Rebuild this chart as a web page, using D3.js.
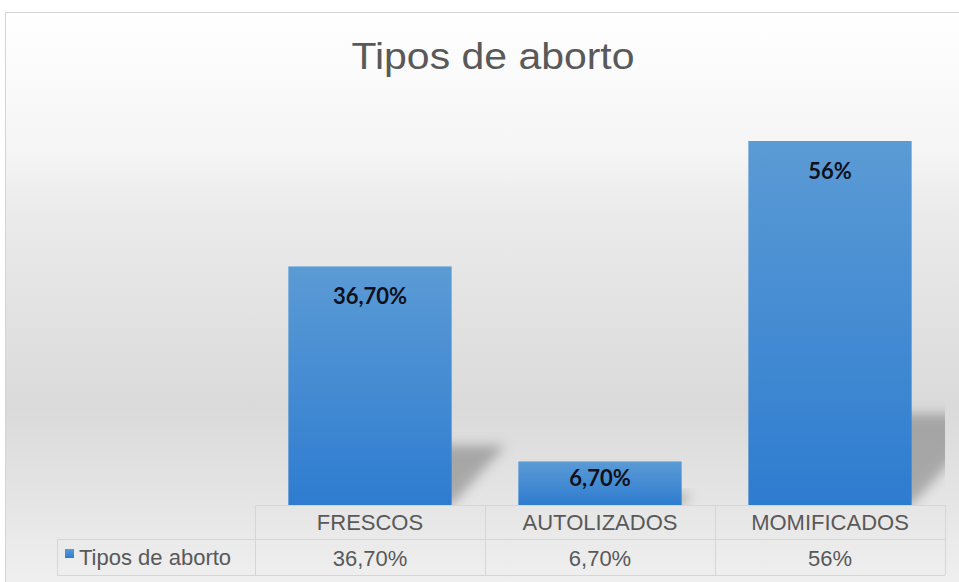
<!DOCTYPE html>
<html>
<head>
<meta charset="utf-8">
<script src="https://cdnjs.cloudflare.com/ajax/libs/d3/7.8.5/d3.min.js"></script>
<style>
  html, body { margin: 0; padding: 0; background: #fff; }
  svg { display: block; }
</style>
</head>
<body>
<svg id="chart"></svg>
<script>
// data
const chartTitle = 'Tipos de aborto';
const seriesName = 'Tipos de aborto';
const categories = ['FRESCOS', 'AUTOLIZADOS', 'MOMIFICADOS'];
const values = [36.7, 6.7, 56];
const valueLabels = ['36,70%', '6,70%', '56%'];

var width = 959;
var height = 582;

// plot geometry
var left = 255, right = 945;
var base = 505, row1 = 539, row2 = 575;

var svg = d3.select('#chart').attr('width', width).attr('height', height);
var defs = svg.append('defs');

var bg = defs.append('linearGradient').attr('id', 'bg')
    .attr('x1', 0).attr('y1', 0).attr('x2', 0).attr('y2', 1);
[['0%', '#ffffff'], ['24%', '#f5f5f5'], ['34%', '#ebebeb'], ['68%', '#dadada'],
 ['84%', '#e5e5e5'], ['100%', '#f1f1f1']].forEach(s => {
  bg.append('stop').attr('offset', s[0]).attr('stop-color', s[1]);
});

var barGrad = defs.append('linearGradient').attr('id', 'barGrad')
    .attr('x1', 0).attr('y1', 0).attr('x2', 0).attr('y2', 1);
barGrad.append('stop').attr('offset', '0%').attr('stop-color', '#5b9bd5');
barGrad.append('stop').attr('offset', '100%').attr('stop-color', '#2e7cd0');

defs.append('filter').attr('id', 'blur')
    .attr('x', '-50%').attr('y', '-50%').attr('width', '200%').attr('height', '200%')
  .append('feGaussianBlur').attr('stdDeviation', 6);

defs.append('clipPath').attr('id', 'plotClip')
  .append('rect').attr('x', 0).attr('y', 0).attr('width', right).attr('height', base);

// chart area
svg.append('rect')
    .attr('x', 5.5).attr('y', 12.5)
    .attr('width', width).attr('height', height)
    .attr('fill', 'url(#bg)')
    .attr('stroke', '#d4d4d4');

var x = d3.scaleBand().domain(categories).range([left, right]).paddingInner(0.29).paddingOuter(0.145);
var col = d3.scaleBand().domain(categories).range([left, right]).padding(0);
var y = d3.scaleLinear().domain([0, 60]).range([base, base - 390]);

// title
svg.append('text')
    .attr('x', 493).attr('y', 69)
    .attr('text-anchor', 'middle')
    .attr('font-family', 'Liberation Sans, Arial, sans-serif')
    .attr('font-size', 37)
    .attr('fill', '#595959')
    .attr('textLength', 283).attr('lengthAdjust', 'spacingAndGlyphs')
    .text(chartTitle);

// perspective shadows behind the bars
svg.append('g').attr('clip-path', 'url(#plotClip)')
  .selectAll('path')
  .data(values)
  .join('path')
    .attr('d', (d, i) => {
      let x0 = x(categories[i]) + 10, x1 = x(categories[i]) + x.bandwidth();
      let h = (base - y(d)) * 0.25;
      let skew = h * 0.9;
      return `M${x0},${base}L${x1},${base}L${x1 + skew},${base - h}L${x0 + skew},${base - h}Z`;
    })
    .attr('fill', '#6e6e6e')
    .attr('opacity', 0.5)
    .attr('filter', 'url(#blur)');

// bars
svg.append('g').selectAll('rect')
  .data(values)
  .join('rect')
    .attr('x', (d, i) => x(categories[i]))
    .attr('y', d => y(d))
    .attr('width', x.bandwidth())
    .attr('height', d => base - y(d))
    .attr('fill', 'url(#barGrad)');

// labels inside end
svg.append('g').selectAll('text')
  .data(values)
  .join('text')
    .attr('x', (d, i) => x(categories[i]) + x.bandwidth() / 2)
    .attr('y', d => y(d) + Math.min(38, (base - y(d)) / 2 + 3))
    .attr('text-anchor', 'middle')
    .attr('font-family', 'Lato, Open Sans, sans-serif')
    .attr('font-weight', 'bold')
    .attr('font-size', 22)
    .attr('fill', '#10101c')
    .text((d, i) => valueLabels[i]);

// data table
var table = svg.append('g')
    .attr('stroke', '#d6d6d6')
    .attr('fill', 'none')
    .attr('shape-rendering', 'crispEdges');
table.append('line').attr('x1', left).attr('x2', right).attr('y1', base).attr('y2', base);
table.append('line').attr('x1', 57).attr('x2', right).attr('y1', row1).attr('y2', row1);
table.append('line').attr('x1', 57).attr('x2', right).attr('y1', row2).attr('y2', row2);
table.append('line').attr('x1', 57).attr('x2', 57).attr('y1', row1).attr('y2', row2);
table.selectAll('.v')
  .data(categories.concat(['end']))
  .join('line')
    .attr('x1', d => d == 'end' ? right : col(d))
    .attr('x2', d => d == 'end' ? right : col(d))
    .attr('y1', base).attr('y2', row2);

var cellFont = 'Liberation Sans, Arial, sans-serif';
svg.append('g').selectAll('text')
  .data(categories)
  .join('text')
    .attr('x', d => col(d) + col.bandwidth() / 2)
    .attr('y', 530)
    .attr('text-anchor', 'middle')
    .attr('font-family', cellFont)
    .attr('font-size', 22)
    .attr('fill', '#595959')
    .text(d => d);

svg.append('g').selectAll('text')
  .data(valueLabels)
  .join('text')
    .attr('x', (d, i) => col(categories[i]) + col.bandwidth() / 2)
    .attr('y', 566)
    .attr('text-anchor', 'middle')
    .attr('font-family', cellFont)
    .attr('font-size', 22)
    .attr('fill', '#595959')
    .text(d => d);

// legend key in the table
svg.append('rect')
    .attr('x', 65).attr('y', 549)
    .attr('width', 9).attr('height', 9)
    .attr('fill', 'url(#barGrad)');
svg.append('text')
    .attr('x', 79).attr('y', 565)
    .attr('font-family', cellFont)
    .attr('font-size', 22)
    .attr('fill', '#595959')
    .text(seriesName);
</script>
</body>
</html>
